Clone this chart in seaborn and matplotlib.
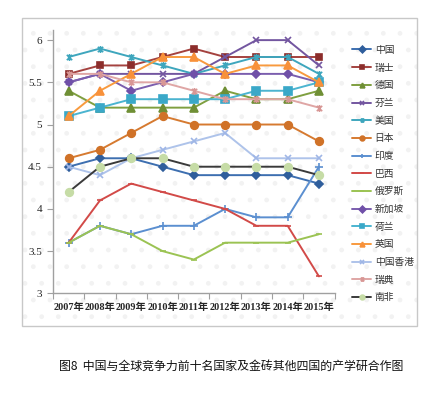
import numpy as np
import pandas as pd
import matplotlib
matplotlib.use("Agg")
import matplotlib.pyplot as plt
import matplotlib.patches as mpatches
from matplotlib.path import Path
import seaborn as sns

sns.set_style("white")
plt.rcParams["font.family"] = ["Liberation Serif", "Noto Sans CJK SC", "DejaVu Sans"]

# data
years = ["2007年", "2008年", "2009年", "2010年", "2011年", "2012年", "2013年", "2014年", "2015年"]
countries = ["中国", "瑞士", "德国", "芬兰", "美国", "日本", "印度", "巴西",
             "俄罗斯", "新加坡", "荷兰", "英国", "中国香港", "瑞典", "南非"]

china = [4.5, 4.6, 4.6, 4.5, 4.4, 4.4, 4.4, 4.4, 4.3]
swiss = [5.6, 5.7, 5.7, 5.8, 5.9, 5.8, 5.8, 5.8, 5.8]
germany = [5.4, 5.2, 5.2, 5.2, 5.2, 5.4, 5.3, 5.3, 5.4]
finland = [5.5, 5.6, 5.6, 5.6, 5.6, 5.8, 6.0, 6.0, 5.7]
usa = [5.8, 5.9, 5.8, 5.7, 5.6, 5.7, 5.8, 5.8, 5.6]
japan = [4.6, 4.7, 4.9, 5.1, 5.0, 5.0, 5.0, 5.0, 4.8]
india = [3.6, 3.8, 3.7, 3.8, 3.8, 4.0, 3.9, 3.9, 4.5]
brazil = [3.6, 4.1, 4.3, 4.2, 4.1, 4.0, 3.8, 3.8, 3.2]
russia = [3.6, 3.8, 3.7, 3.5, 3.4, 3.6, 3.6, 3.6, 3.7]
singapore = [5.5, 5.6, 5.4, 5.5, 5.6, 5.6, 5.6, 5.6, 5.5]
netherlands = [5.1, 5.2, 5.3, 5.3, 5.3, 5.3, 5.4, 5.4, 5.5]
uk = [5.1, 5.4, 5.6, 5.8, 5.8, 5.6, 5.7, 5.7, 5.5]
hongkong = [4.5, 4.4, 4.6, 4.7, 4.8, 4.9, 4.6, 4.6, 4.6]
sweden = [5.6, 5.6, 5.5, 5.5, 5.4, 5.3, 5.3, 5.3, 5.2]
south_africa = [4.2, 4.5, 4.6, 4.6, 4.5, 4.5, 4.5, 4.5, 4.4]

series = [china, swiss, germany, finland, usa, japan, india, brazil,
          russia, singapore, netherlands, uk, hongkong, sweden, south_africa]

caption = "图8  中国与全球竞争力前十名国家及金砖其他四国的产学研合作图"

# Excel-like star marker (x with a vertical bar)
star = Path([(-1, -1), (1, 1), (-1, 1), (1, -1), (0, -1.3), (0, 1.3)],
            [Path.MOVETO, Path.LINETO, Path.MOVETO, Path.LINETO, Path.MOVETO, Path.LINETO])

# line colour, marker, marker size, marker colour
styles = {
    "中国": ("#3d6fb0", "D", 4.5, "#2f5e9c"),
    "瑞士": ("#a4423f", "s", 5, "#8c2d2b"),
    "德国": ("#7f9f40", "^", 5.5, "#6f8f35"),
    "芬兰": ("#7356a0", "x", 5, "#7356a0"),
    "美国": ("#3ea6bd", star, 5, "#3ea6bd"),
    "日本": ("#d67a30", "o", 5.5, "#d07228"),
    "印度": ("#5b8fd0", "+", 6, "#5b8fd0"),
    "巴西": ("#d24a48", "_", 4, "#d24a48"),
    "俄罗斯": ("#9bc353", "_", 4, "#9bc353"),
    "新加坡": ("#7b5eae", "D", 4.5, "#7050a8"),
    "荷兰": ("#4bb4d0", "s", 5.5, "#3aa8c8"),
    "英国": ("#f89a3e", "^", 5.5, "#f8913a"),
    "中国香港": ("#aec3ea", "x", 5, "#9fb6e6"),
    "瑞典": ("#dfa6a5", star, 5, "#d89795"),
    "南非": ("#3a3a3a", "o", 5.5, "#c6dca6"),
}

W, H = 441, 394
fig = plt.figure(figsize=(W / 100, H / 100), dpi=100)

# chart area with faint dotted texture and a grey border
x0, y0, x1, y1 = 22, 18, 417, 326
fig.patches.append(mpatches.Rectangle((x0 / W, 1 - y1 / H), (x1 - x0) / W, (y1 - y0) / H,
                                      transform=fig.transFigure, facecolor="white",
                                      edgecolor="#f2f2f2", hatch=".", lw=0, zorder=-2))
fig.patches.append(mpatches.Rectangle((x0 / W, 1 - y1 / H), (x1 - x0) / W, (y1 - y0) / H,
                                      transform=fig.transFigure, facecolor="none",
                                      edgecolor="#c8c8c8", lw=1, zorder=-1))

ax = fig.add_axes([53 / W, 1 - 293.3 / H, (334.6 - 53) / W, (293.3 - 30) / H])
ax.patch.set_alpha(0)

for name, vals in zip(countries, series):
    color, marker, ms, mcol = styles[name]
    df = pd.DataFrame({"x": np.arange(len(years)), "y": vals})
    sns.lineplot(data=df, x="x", y="y", ax=ax, color=color, lw=1.4,
                 marker=marker, markersize=ms, markerfacecolor=mcol,
                 markeredgecolor=mcol, markeredgewidth=1.2, label=name)

ax.set_xlim(-0.5, len(years) - 0.5)
ax.set_ylim(3, 6.12)
ax.set_xticks(np.arange(-0.5, len(years), 1))
ax.set_xticklabels([])
ax.set_xticks(np.arange(len(years)), minor=True)
ax.set_xticklabels(years, minor=True, fontsize=7.4, fontweight="bold")
ax.tick_params(axis="x", which="major", length=4, direction="out", color="#a0a0a0", bottom=True)
ax.tick_params(axis="x", which="minor", length=0, pad=7)
ax.set_yticks([3, 3.5, 4, 4.5, 5, 5.5, 6])
ax.set_yticklabels(["3", "3.5", "4", "4.5", "5", "5.5", "6"], fontsize=8)
ax.tick_params(axis="y", length=4, direction="out", color="#a0a0a0", left=True, pad=4)
for s in ["top", "right"]:
    ax.spines[s].set_visible(False)
for s in ["left", "bottom"]:
    ax.spines[s].set_color("#a0a0a0")
    ax.spines[s].set_linewidth(1)
ax.set_xlabel("")
ax.set_ylabel("")

leg = ax.legend(loc="upper left", bbox_to_anchor=(348 / W, 1 - 41 / H),
                bbox_transform=fig.transFigure, frameon=False,
                prop={"family": ["Noto Sans CJK SC"], "size": 7},
                handlelength=2.0, handletextpad=0.35, labelspacing=0.79, borderaxespad=0)
for t in leg.get_texts():
    t.set_color("#333333")
for h in leg.legend_handles:
    h.set_markersize(3.4)

fig.text(231 / W, 1 - 366 / H, caption, ha="center", va="center",
         fontsize=8.6, family=["Noto Sans CJK SC"], color="#111111")

fig.savefig("out.png", dpi=100)
